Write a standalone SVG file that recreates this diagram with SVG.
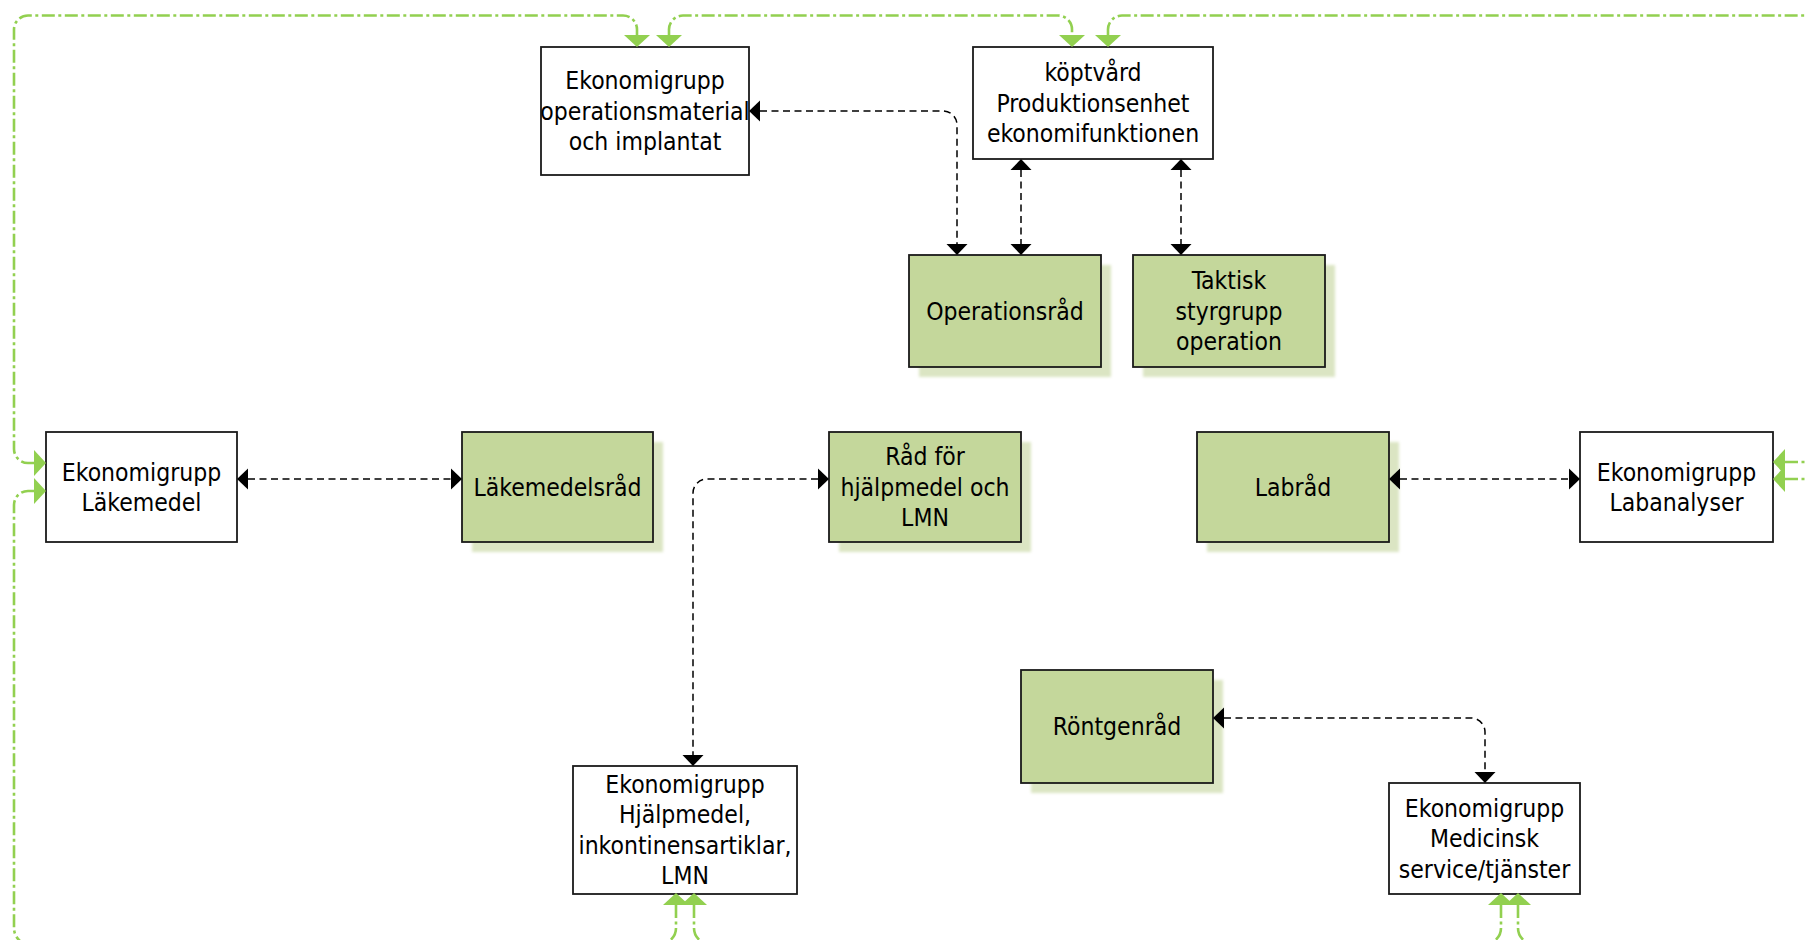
<svg xmlns="http://www.w3.org/2000/svg" width="1805" height="940" viewBox="0 0 1805 940">
<style>
.box{fill:#ffffff;stroke:#1a1a1a;stroke-width:1.8}
.gbox{fill:#c4d79b;stroke:#1a1a1a;stroke-width:1.8}
.shadow{fill:#dbe5c3;filter:url(#blur)}
.t{font-family:"DejaVu Sans Condensed","DejaVu Sans",sans-serif;font-stretch:condensed;font-size:24.5px;fill:#000;text-anchor:middle}
.bl{fill:none;stroke:#000;stroke-width:1.5;stroke-dasharray:7 4.5;marker-start:url(#ab);marker-end:url(#ab)}
.gr{fill:none;stroke:#92d050;stroke-width:2.6;stroke-dasharray:13 3.5 3 3.5}
</style>
<defs>
<filter id="blur" x="-10%" y="-10%" width="120%" height="120%"><feGaussianBlur stdDeviation="1.5"/></filter>
<marker id="ab" markerUnits="userSpaceOnUse" markerWidth="13" markerHeight="24" viewBox="0 -12 13 24" refX="0" refY="0" orient="auto-start-reverse" overflow="visible">
<path d="M0,-10.5 L11,0 L0,10.5 Z" fill="#000"/>
</marker>
<marker id="ag" markerUnits="userSpaceOnUse" markerWidth="14" markerHeight="28" viewBox="0 -14 14 28" refX="0" refY="0" orient="auto-start-reverse" overflow="visible">
<path d="M0,-13 L12,0 L0,13 Z" fill="#92d050"/>
</marker>
</defs>

<g id="n-opmaterial">
<rect class="box" x="541" y="47" width="208" height="128"/>
<text class="t" x="645" y="89">Ekonomigrupp</text>
<text class="t" x="645" y="119.5">operationsmaterial</text>
<text class="t" x="645" y="150">och implantat</text>
</g>

<g id="n-koptvard">
<rect class="box" x="973" y="47" width="240" height="112"/>
<text class="t" x="1093" y="81">köptvård</text>
<text class="t" x="1093" y="111.5">Produktionsenhet</text>
<text class="t" x="1093" y="142">ekonomifunktionen</text>
</g>

<g id="n-operationsrad">
<rect class="shadow" x="919" y="265" width="192" height="112"/>
<rect class="gbox" x="909" y="255" width="192" height="112"/>
<text class="t" x="1005" y="319.5">Operationsråd</text>
</g>

<g id="n-taktisk">
<rect class="shadow" x="1143" y="265" width="192" height="112"/>
<rect class="gbox" x="1133" y="255" width="192" height="112"/>
<text class="t" x="1229" y="289">Taktisk</text>
<text class="t" x="1229" y="319.5">styrgrupp</text>
<text class="t" x="1229" y="350">operation</text>
</g>

<g id="n-lakemedel">
<rect class="box" x="46" y="432" width="191" height="110"/>
<text class="t" x="141.5" y="480.5">Ekonomigrupp</text>
<text class="t" x="141.5" y="511">Läkemedel</text>
</g>

<g id="n-lakemedelsrad">
<rect class="shadow" x="472" y="442" width="191" height="110"/>
<rect class="gbox" x="462" y="432" width="191" height="110"/>
<text class="t" x="557.5" y="495.5">Läkemedelsråd</text>
</g>

<g id="n-radhjalpmedel">
<rect class="shadow" x="839" y="442" width="192" height="110"/>
<rect class="gbox" x="829" y="432" width="192" height="110"/>
<text class="t" x="925" y="465">Råd för</text>
<text class="t" x="925" y="495.5">hjälpmedel och</text>
<text class="t" x="925" y="526">LMN</text>
</g>

<g id="n-labrad">
<rect class="shadow" x="1207" y="442" width="192" height="110"/>
<rect class="gbox" x="1197" y="432" width="192" height="110"/>
<text class="t" x="1293" y="495.5">Labråd</text>
</g>

<g id="n-labanalyser">
<rect class="box" x="1580" y="432" width="193" height="110"/>
<text class="t" x="1676.5" y="480.5">Ekonomigrupp</text>
<text class="t" x="1676.5" y="511">Labanalyser</text>
</g>

<g id="n-rontgenrad">
<rect class="shadow" x="1031" y="680" width="192" height="113"/>
<rect class="gbox" x="1021" y="670" width="192" height="113"/>
<text class="t" x="1117" y="735">Röntgenråd</text>
</g>

<g id="n-hjalpmedel">
<rect class="box" x="573" y="766" width="224" height="128"/>
<text class="t" x="685" y="792.5">Ekonomigrupp</text>
<text class="t" x="685" y="823">Hjälpmedel,</text>
<text class="t" x="685" y="853.5">inkontinensartiklar,</text>
<text class="t" x="685" y="884">LMN</text>
</g>

<g id="n-medicinsk">
<rect class="box" x="1389" y="783" width="191" height="111"/>
<text class="t" x="1484.5" y="816.5">Ekonomigrupp</text>
<text class="t" x="1484.5" y="847">Medicinsk</text>
<text class="t" x="1484.5" y="877.5">service/tjänster</text>
</g>

<g id="connectors">
<path class="bl" d="M760,111 L943,111 A14 14 0 0 1 957,125 L957,244"/>
<path class="bl" d="M1021,170 L1021,244"/>
<path class="bl" d="M1181,170 L1181,244"/>
<path class="bl" d="M248,479 L451,479"/>
<path class="bl" d="M818,479 L707,479 A14 14 0 0 0 693,493 L693,755"/>
<path class="bl" d="M1400,479 L1569,479"/>
<path class="bl" d="M1224,718 L1471,718 A14 14 0 0 1 1485,732 L1485,772"/>

<path class="gr" marker-start="url(#ag)" marker-end="url(#ag)" d="M34,463 L28,463 A14 14 0 0 1 14,449 L14,30 A14 14 0 0 1 28,15.5 L623,15.5 A14 14 0 0 1 637,30 L637,35"/>
<path class="gr" marker-start="url(#ag)" marker-end="url(#ag)" d="M669,35 L669,30 A14 14 0 0 1 683,15.5 L1058,15.5 A14 14 0 0 1 1072,30 L1072,35"/>
<path class="gr" marker-start="url(#ag)" d="M1108,35 L1108,30 A14 14 0 0 1 1122,15.5 L1815,15.5"/>
<path class="gr" marker-start="url(#ag)" d="M34,491 L28,491 A14 14 0 0 0 14,505 L14,928 A17 17 0 0 0 31,945 L300,945"/>
<path class="gr" marker-start="url(#ag)" d="M1785,462 L1815,462"/>
<path class="gr" marker-start="url(#ag)" d="M1785,479 L1815,479"/>
<path class="gr" marker-start="url(#ag)" d="M676,905 L676,928 A16 16 0 0 1 660,944 L450,944"/>
<path class="gr" marker-start="url(#ag)" d="M694,905 L694,928 A16 16 0 0 0 710,944 L950,944"/>
<path class="gr" marker-start="url(#ag)" d="M1501,905 L1501,928 A16 16 0 0 1 1485,944 L1300,944"/>
<path class="gr" marker-start="url(#ag)" d="M1518,905 L1518,928 A16 16 0 0 0 1534,944 L1815,944"/>
</g>
</svg>
